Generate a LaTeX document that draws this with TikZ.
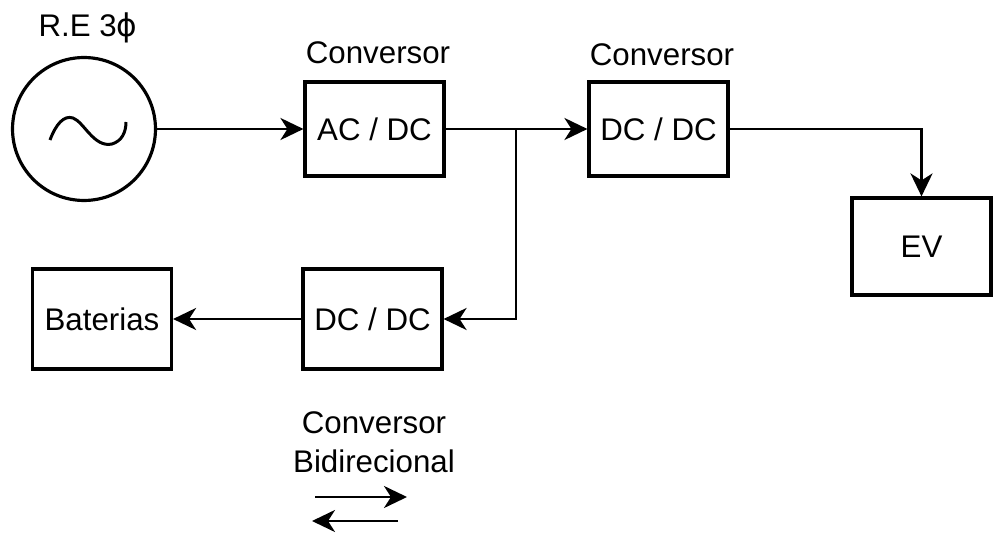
\documentclass[tikz,border=0pt]{standalone}
\usepackage{fontspec}
\setmainfont{Liberation Sans}
\newfontfamily\greekfont{DejaVu Sans}
\usetikzlibrary{arrows.meta}
\usetikzlibrary{positioning}

\tikzset{
  blk/.style={draw, line width=1.8pt, minimum width=2.78cm, minimum height=1.88cm, inner sep=0pt},
  wire/.style={line width=1.6pt, -{Stealth[length=4.6mm, width=4.4mm, inset=1.4mm]}},
}

\begin{document}
\begin{tikzpicture}[x=0.02cm, y=-0.02cm, font=\fontsize{17.8}{22}\selectfont]
\useasboundingbox (0,0) rectangle (993,533);

% source
\node[draw, circle, line width=1.8pt, minimum size=2.86cm] (src) at (84,129) {};
\draw[line width=1.7pt] (50,140) .. controls (56,124) and (64,115) .. (73,118)
  .. controls (84,122) and (94,148) .. (112,144) .. controls (122,141) and (126,132) .. (126,122);
\node (re) at (88,28) {R.E 3{\greekfont ϕ}};

% converters
\node[blk] (acdc) at (374.5,129) {AC / DC};
\node[blk] (dcdc) at (658.5,129) {DC / DC};
\node[blk, minimum height=1.94cm] (ev) at (921.5,246.5) {EV};
\node[blk, minimum height=2cm] (bat) at (102,319) {Baterias};
\node[blk, minimum height=2cm] (bidc) at (372.5,319) {DC / DC};

\node (conv1) at (378,53) {Conversor};
\node (conv2) at (662,55) {Conversor};
\node[align=center] (conv3) at (374,442) {Conversor\\Bidirecional};

% connections
\coordinate (j) at (516,129);
\draw[wire] (src.east) -- (acdc.west);
\draw[wire] (acdc.east) -- (dcdc.west);
\draw[wire] (j) |- (bidc.east);
\draw[wire] (bidc.west) -- (bat.east);
\draw[wire] (dcdc.east) -| (ev.north);

% bidirectional sign
\coordinate (a1) at (315,497); \coordinate (a2) at (407,497);
\coordinate (b1) at (398,521); \coordinate (b2) at (312,521);
\draw[wire] (a1) -- (a2);
\draw[wire] (b1) -- (b2);
\end{tikzpicture}
\end{document}
